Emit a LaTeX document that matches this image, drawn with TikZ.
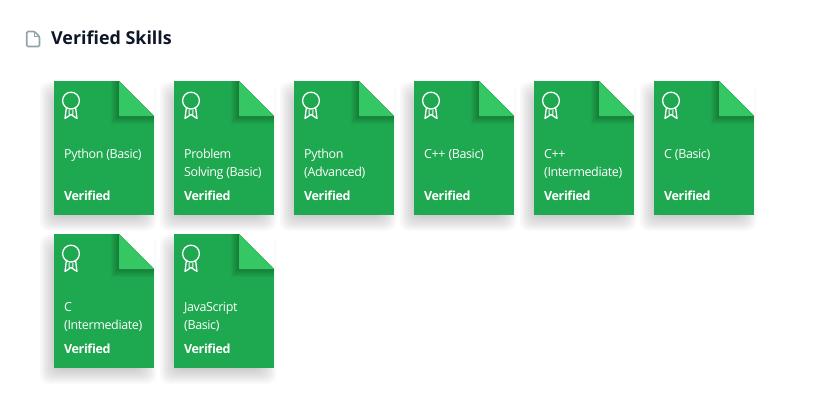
\documentclass[tikz,border=0pt]{standalone}
\usepackage{fontspec}
\setmainfont{Open Sans}
\newfontfamily\cardfont[LetterSpace=-3]{Open Sans}
\usetikzlibrary{positioning,calc,backgrounds}
\definecolor{cardgreen}{HTML}{1EA84F}
\definecolor{foldgreen}{HTML}{34C764}
\definecolor{titleink}{HTML}{0E1628}
\definecolor{iconink}{HTML}{8FA3AB}
\tikzset{
  skillcard/.style={fill=cardgreen, minimum width=100pt, minimum height=133.5pt, inner sep=0pt, outer sep=0pt},
  skilltext/.style={text=white, align=left, anchor=north west, inner sep=0pt, font=\cardfont\fontsize{12.5}{18}\selectfont},
  skillflag/.style={text=white, anchor=base west, inner sep=0pt, font=\cardfont\fontsize{12.5}{18}\selectfont\bfseries},
  ribbon/.style={draw=white, line width=1.3pt, line join=round},
}
% one card: name, placement, text
\newcommand{\skillcard}[3]{
  \node[skillcard, #2] (#1) {};
  \begin{pgfonlayer}{background}
    \foreach \d in {-8,-6,...,8}
      \fill[black, opacity=0.026, rounded corners=9pt]
        ($(#1.north west)+(-\d pt-6pt,-9pt+\d pt)$) rectangle ($(#1.south east)+(\d pt-6pt,-8pt-\d pt)$);
  \end{pgfonlayer}
  \begin{scope}
    \clip (#1.north west) rectangle (#1.south east);
    \foreach \d in {1,...,8}
      \fill[black, opacity=0.03] ($(#1.north east)+(-35pt-\d pt,0pt)$) rectangle ($(#1.north east)+(0pt,-35pt-\d pt)$);
  \end{scope}
  \fill[white] ($(#1.north east)+(-35pt,0.5pt)$) -- ($(#1.north east)+(0.5pt,0.5pt)$) -- ($(#1.north east)+(0.5pt,-35pt)$) -- cycle;
  \fill[foldgreen] ($(#1.north east)+(-35pt,0pt)$) -- ($(#1.north east)+(0pt,-35pt)$) -- ($(#1.north east)+(-35pt,-35pt)$) -- cycle;
  \draw[ribbon] ($(#1.north west)+(17pt,-19.6pt)$) circle (8.4pt);
  \draw[ribbon] ($(#1.north west)+(12.4pt,-26.5pt)$) -- ($(#1.north west)+(11pt,-37.5pt)$) -- ($(#1.north west)+(17pt,-33.5pt)$) -- ($(#1.north west)+(23pt,-37.5pt)$) -- ($(#1.north west)+(21.6pt,-26.5pt)$);
  \draw[ribbon, line width=1pt] ($(#1.north west)+(15pt,-28.5pt)$) -- ($(#1.north west)+(15.3pt,-34pt)$);
  \draw[ribbon, line width=1pt] ($(#1.north west)+(19pt,-28.5pt)$) -- ($(#1.north west)+(18.7pt,-34pt)$);
  \node[skilltext] (#1text) at ($(#1.north west)+(10pt,-68pt)$) {#3};
  \node[skillflag] (#1flag) at ($(#1.south west)+(10pt,14pt)$) {Verified};
}
\begin{document}
\begin{tikzpicture}[x=1pt, y=1pt, node distance=20pt]
\useasboundingbox (0,0) rectangle (836,-413);
% heading
\draw[iconink, line width=1.6pt, line join=round, rounded corners=1.2pt] (26.7,-31.5) -- (34.5,-31.5) -- (39.5,-36.5) -- (39.5,-46.5) -- (26.7,-46.5) -- cycle;
\draw[iconink, line width=1.2pt, line join=round] (34.2,-31.5) -- (34.2,-36.8) -- (39.5,-36.8);
\node[anchor=base west, inner sep=0pt, text=titleink, font=\fontsize{17.9}{20}\selectfont\bfseries] (title) at (51,-44.5) {Verified Skills};
% cards
\skillcard{python}{anchor=north west, at={(54,-81)}}{Python (Basic)}
\skillcard{problem}{right=of python}{Problem\\Solving (Basic)}
\skillcard{pyadv}{right=of problem}{Python\\(Advanced)}
\skillcard{cppbasic}{right=of pyadv}{C++ (Basic)}
\skillcard{cppinter}{right=of cppbasic}{C++\\(Intermediate)}
\skillcard{cbasic}{right=of cppinter}{C (Basic)}
\skillcard{cinter}{below=19.5pt of python}{C\\(Intermediate)}
\skillcard{jsbasic}{right=of cinter}{JavaScript\\(Basic)}
\end{tikzpicture}
\end{document}
